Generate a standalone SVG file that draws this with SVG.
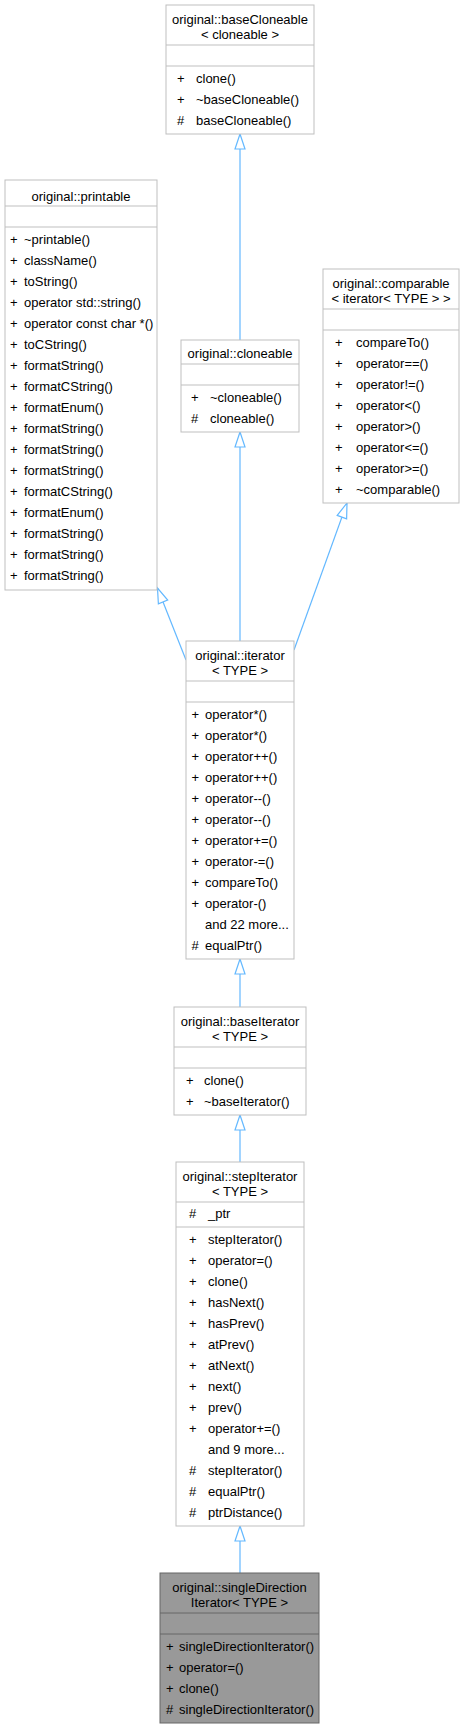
<svg xmlns="http://www.w3.org/2000/svg" width="463" height="1728" viewBox="0 0 463 1728">
<style>
.box{fill:#ffffff;stroke:#bfbfbf;stroke-width:1}
.hl{fill:#999999;stroke:#666666;stroke-width:1}
.sep{stroke:#bfbfbf;stroke-width:1}
.hsep{stroke:#666666;stroke-width:1}
text{font-family:"Liberation Sans",Arial,Helvetica,sans-serif;font-size:13px;fill:#000000}
.t{text-anchor:middle}
.edge{fill:none;stroke:#63b8ff;stroke-width:1.2}
</style>
<defs>
<marker id="inh" viewBox="0 0 15 10" refX="15" refY="5" markerWidth="15" markerHeight="10" markerUnits="userSpaceOnUse" orient="auto" overflow="visible">
<path d="M0,0 L15,5 L0,10 Z" fill="#ffffff" stroke="#63b8ff" stroke-width="1.2"/>
</marker>
</defs>
<rect width="463" height="1728" fill="#ffffff"/>

<g id="edges">
<path class="edge" d="M240,340 L240,134" marker-end="url(#inh)"/>
<path class="edge" d="M240,641 L240,432" marker-end="url(#inh)"/>
<path class="edge" d="M186,660 L157.5,588" marker-end="url(#inh)"/>
<path class="edge" d="M294,650 L347,503" marker-end="url(#inh)"/>
<path class="edge" d="M240,1007 L240,959" marker-end="url(#inh)"/>
<path class="edge" d="M240,1162 L240,1115" marker-end="url(#inh)"/>
<path class="edge" d="M240,1573 L240,1526" marker-end="url(#inh)"/>
</g>

<g id="baseCloneable">
<rect class="box" x="166" y="5" width="148" height="129"/>
<line class="sep" x1="166" y1="45" x2="314" y2="45"/>
<line class="sep" x1="166" y1="66" x2="314" y2="66"/>
<text class="t" x="240" y="23.5">original::baseCloneable</text>
<text class="t" x="240" y="39">&lt; cloneable &gt;</text>
<text x="177" y="82.5">+</text><text x="196" y="82.5">clone()</text>
<text x="177" y="103.5">+</text><text x="196" y="103.5">~baseCloneable()</text>
<text x="177" y="124.5">#</text><text x="196" y="124.5">baseCloneable()</text>
</g>

<g id="printable">
<rect class="box" x="5" y="180" width="152" height="410"/>
<line class="sep" x1="5" y1="206" x2="157" y2="206"/>
<line class="sep" x1="5" y1="227" x2="157" y2="227"/>
<text class="t" x="81" y="201">original::printable</text>
<text x="10" y="243.5">+</text><text x="24" y="243.5">~printable()</text>
<text x="10" y="264.5">+</text><text x="24" y="264.5">className()</text>
<text x="10" y="285.5">+</text><text x="24" y="285.5">toString()</text>
<text x="10" y="306.5">+</text><text x="24" y="306.5">operator std::string()</text>
<text x="10" y="327.5">+</text><text x="24" y="327.5">operator const char *()</text>
<text x="10" y="348.5">+</text><text x="24" y="348.5">toCString()</text>
<text x="10" y="369.5">+</text><text x="24" y="369.5">formatString()</text>
<text x="10" y="390.5">+</text><text x="24" y="390.5">formatCString()</text>
<text x="10" y="411.5">+</text><text x="24" y="411.5">formatEnum()</text>
<text x="10" y="432.5">+</text><text x="24" y="432.5">formatString()</text>
<text x="10" y="453.5">+</text><text x="24" y="453.5">formatString()</text>
<text x="10" y="474.5">+</text><text x="24" y="474.5">formatString()</text>
<text x="10" y="495.5">+</text><text x="24" y="495.5">formatCString()</text>
<text x="10" y="516.5">+</text><text x="24" y="516.5">formatEnum()</text>
<text x="10" y="537.5">+</text><text x="24" y="537.5">formatString()</text>
<text x="10" y="558.5">+</text><text x="24" y="558.5">formatString()</text>
<text x="10" y="579.5">+</text><text x="24" y="579.5">formatString()</text>
</g>

<g id="cloneable">
<rect class="box" x="181" y="340" width="118" height="92"/>
<line class="sep" x1="181" y1="364" x2="299" y2="364"/>
<line class="sep" x1="181" y1="385" x2="299" y2="385"/>
<text class="t" x="240" y="358">original::cloneable</text>
<text x="191" y="401.5">+</text><text x="210" y="401.5">~cloneable()</text>
<text x="191" y="422.5">#</text><text x="210" y="422.5">cloneable()</text>
</g>

<g id="comparable">
<rect class="box" x="323" y="269" width="136" height="234"/>
<line class="sep" x1="323" y1="309" x2="459" y2="309"/>
<line class="sep" x1="323" y1="330" x2="459" y2="330"/>
<text class="t" x="391" y="287.5">original::comparable</text>
<text class="t" x="391" y="303">&lt; iterator&lt; TYPE &gt; &gt;</text>
<text x="335" y="346.5">+</text><text x="356" y="346.5">compareTo()</text>
<text x="335" y="367.5">+</text><text x="356" y="367.5">operator==()</text>
<text x="335" y="388.5">+</text><text x="356" y="388.5">operator!=()</text>
<text x="335" y="409.5">+</text><text x="356" y="409.5">operator&lt;()</text>
<text x="335" y="430.5">+</text><text x="356" y="430.5">operator&gt;()</text>
<text x="335" y="451.5">+</text><text x="356" y="451.5">operator&lt;=()</text>
<text x="335" y="472.5">+</text><text x="356" y="472.5">operator&gt;=()</text>
<text x="335" y="493.5">+</text><text x="356" y="493.5">~comparable()</text>
</g>

<g id="iterator">
<rect class="box" x="186" y="641" width="108" height="318"/>
<line class="sep" x1="186" y1="681" x2="294" y2="681"/>
<line class="sep" x1="186" y1="702" x2="294" y2="702"/>
<text class="t" x="240" y="659.5">original::iterator</text>
<text class="t" x="240" y="675">&lt; TYPE &gt;</text>
<text x="191.5" y="718.5">+</text><text x="205" y="718.5">operator*()</text>
<text x="191.5" y="739.5">+</text><text x="205" y="739.5">operator*()</text>
<text x="191.5" y="760.5">+</text><text x="205" y="760.5">operator++()</text>
<text x="191.5" y="781.5">+</text><text x="205" y="781.5">operator++()</text>
<text x="191.5" y="802.5">+</text><text x="205" y="802.5">operator--()</text>
<text x="191.5" y="823.5">+</text><text x="205" y="823.5">operator--()</text>
<text x="191.5" y="844.5">+</text><text x="205" y="844.5">operator+=()</text>
<text x="191.5" y="865.5">+</text><text x="205" y="865.5">operator-=()</text>
<text x="191.5" y="886.5">+</text><text x="205" y="886.5">compareTo()</text>
<text x="191.5" y="907.5">+</text><text x="205" y="907.5">operator-()</text>
<text x="205" y="928.5">and 22 more...</text>
<text x="191.5" y="949.5">#</text><text x="205" y="949.5">equalPtr()</text>
</g>

<g id="baseIterator">
<rect class="box" x="174" y="1007" width="132" height="108"/>
<line class="sep" x1="174" y1="1047" x2="306" y2="1047"/>
<line class="sep" x1="174" y1="1068" x2="306" y2="1068"/>
<text class="t" x="240" y="1025.5">original::baseIterator</text>
<text class="t" x="240" y="1041">&lt; TYPE &gt;</text>
<text x="186" y="1084.5">+</text><text x="204" y="1084.5">clone()</text>
<text x="186" y="1105.5">+</text><text x="204" y="1105.5">~baseIterator()</text>
</g>

<g id="stepIterator">
<rect class="box" x="176" y="1162" width="128" height="364"/>
<line class="sep" x1="176" y1="1202" x2="304" y2="1202"/>
<line class="sep" x1="176" y1="1227" x2="304" y2="1227"/>
<text class="t" x="240" y="1180.5">original::stepIterator</text>
<text class="t" x="240" y="1196">&lt; TYPE &gt;</text>
<text x="189" y="1218">#</text><text x="208" y="1218">_ptr</text>
<text x="189" y="1243.5">+</text><text x="208" y="1243.5">stepIterator()</text>
<text x="189" y="1264.5">+</text><text x="208" y="1264.5">operator=()</text>
<text x="189" y="1285.5">+</text><text x="208" y="1285.5">clone()</text>
<text x="189" y="1306.5">+</text><text x="208" y="1306.5">hasNext()</text>
<text x="189" y="1327.5">+</text><text x="208" y="1327.5">hasPrev()</text>
<text x="189" y="1348.5">+</text><text x="208" y="1348.5">atPrev()</text>
<text x="189" y="1369.5">+</text><text x="208" y="1369.5">atNext()</text>
<text x="189" y="1390.5">+</text><text x="208" y="1390.5">next()</text>
<text x="189" y="1411.5">+</text><text x="208" y="1411.5">prev()</text>
<text x="189" y="1432.5">+</text><text x="208" y="1432.5">operator+=()</text>
<text x="208" y="1453.5">and 9 more...</text>
<text x="189" y="1474.5">#</text><text x="208" y="1474.5">stepIterator()</text>
<text x="189" y="1495.5">#</text><text x="208" y="1495.5">equalPtr()</text>
<text x="189" y="1516.5">#</text><text x="208" y="1516.5">ptrDistance()</text>
</g>

<g id="singleDirectionIterator">
<rect class="hl" x="160" y="1573" width="159" height="150"/>
<line class="hsep" x1="160" y1="1613" x2="319" y2="1613"/>
<line class="hsep" x1="160" y1="1634" x2="319" y2="1634"/>
<text class="t" x="239.5" y="1591.5">original::singleDirection</text>
<text class="t" x="239.5" y="1607">Iterator&lt; TYPE &gt;</text>
<text x="166" y="1650.5">+</text><text x="179" y="1650.5">singleDirectionIterator()</text>
<text x="166" y="1671.5">+</text><text x="179" y="1671.5">operator=()</text>
<text x="166" y="1692.5">+</text><text x="179" y="1692.5">clone()</text>
<text x="166" y="1713.5">#</text><text x="179" y="1713.5">singleDirectionIterator()</text>
</g>
</svg>
